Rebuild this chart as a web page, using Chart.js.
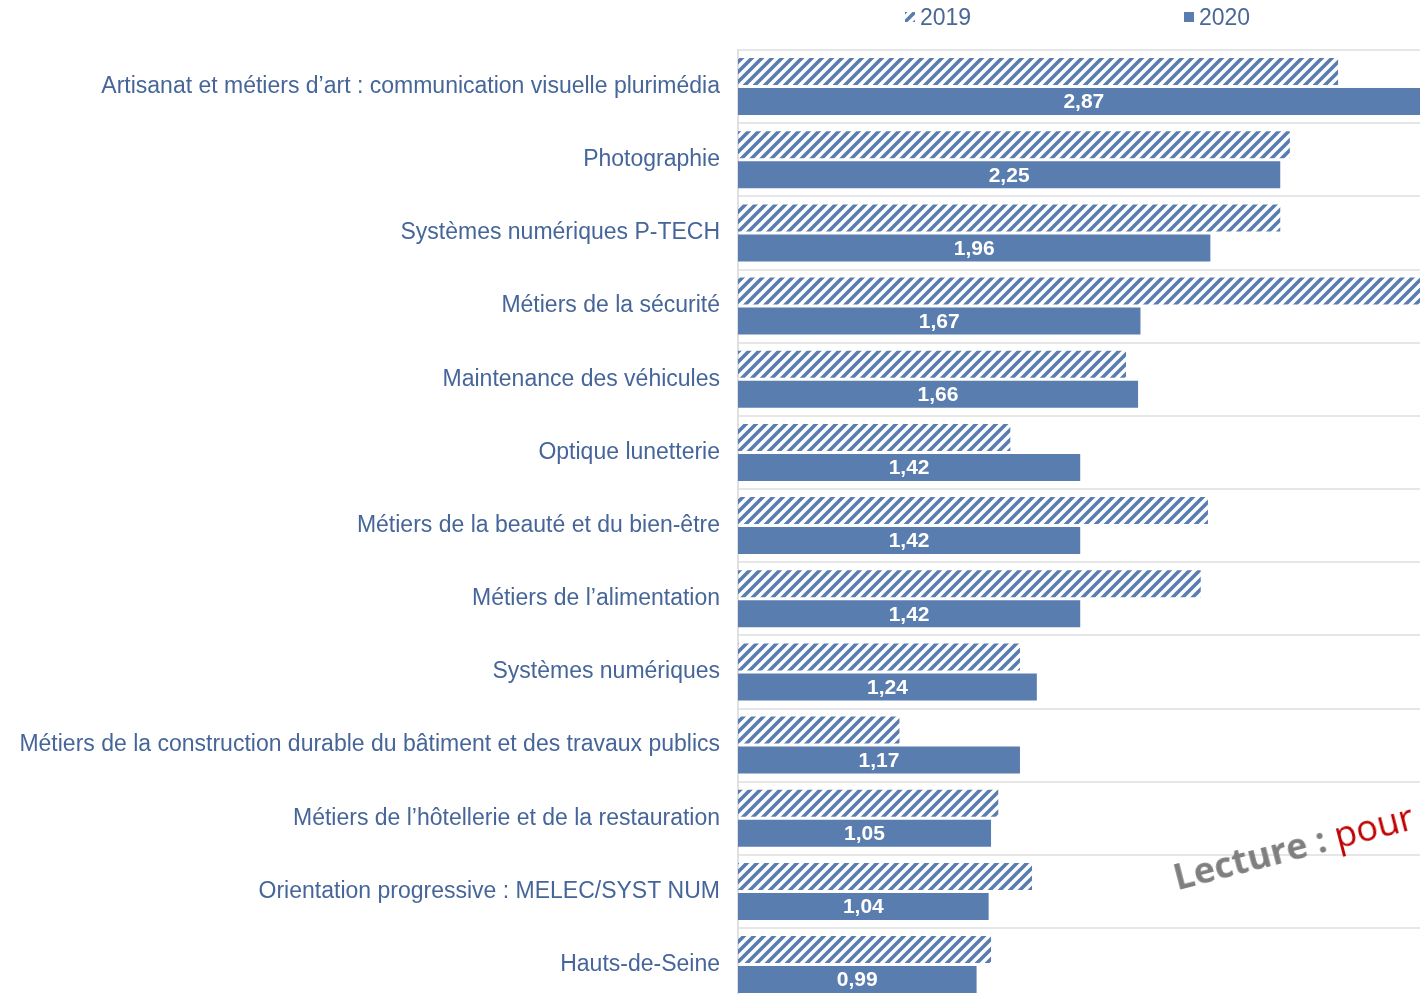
<!DOCTYPE html>
<html>
<head>
<meta charset="utf-8">
<script src="https://cdn.jsdelivr.net/npm/chart.js@4.4.1/dist/chart.umd.min.js"></script>
<style>
  html, body { margin: 0; padding: 0; background: #fff; overflow: hidden; width: 1420px; height: 994px; }
  #myChart { position: absolute; left: 0; top: 0; }
  .legend { position: absolute; top: 4px; font: 23px "Liberation Sans", Arial, sans-serif; color: #4a6896; }
  .legend span.box { display: inline-block; width: 10px; height: 10px; margin-right: 5px; vertical-align: 3px; }
  .lecture { position: absolute; left: 1180px; top: 852px; font: 36px "Open Sans", sans-serif; transform: rotate(-14.5deg); transform-origin: left bottom; white-space: nowrap; }
</style>
</head>
<body>
<canvas id="myChart" width="1480" height="1033"></canvas>
<div class="legend" style="left:905px"><span class="box" id="hatchBox"></span>2019</div>
<div class="legend" style="left:1184px"><span class="box" style="background:#5a7db0"></span>2020</div>
<div class="lecture"><span style="color:#7f7f7f;font-weight:700">Lecture : </span><span style="color:#c00000">pour</span></div>
<script>
const categories = [
  'Artisanat et métiers d\u2019art : communication visuelle plurimédia',
  'Photographie',
  'Systèmes numériques P-TECH',
  'Métiers de la sécurité',
  'Maintenance des véhicules',
  'Optique lunetterie',
  'Métiers de la beauté et du bien-être',
  'Métiers de l\u2019alimentation',
  'Systèmes numériques',
  'Métiers de la construction durable du bâtiment et des travaux publics',
  'Métiers de l\u2019hôtellerie et de la restauration',
  'Orientation progressive : MELEC/SYST NUM',
  'Hauts-de-Seine'
];
const values2019 = [2.49, 2.29, 2.25, 2.95, 1.61, 1.13, 1.95, 1.92, 1.17, 0.67, 1.08, 1.22, 1.05];
const values2020 = [2.87, 2.25, 1.96, 1.67, 1.66, 1.42, 1.42, 1.42, 1.24, 1.17, 1.05, 1.04, 0.99];

const blue = '#5a7db0';

function makeHatch() {
  const c = document.createElement('canvas');
  c.width = 10; c.height = 10;
  const g = c.getContext('2d');
  g.strokeStyle = blue;
  g.lineWidth = 3.6;
  g.lineCap = 'square';
  g.beginPath();
  g.moveTo(-2, 12); g.lineTo(12, -2);
  g.moveTo(-12, 12); g.lineTo(2, -2);
  g.moveTo(8, 12); g.lineTo(22, -2);
  g.stroke();
  return c;
}

const hatchCanvas = makeHatch();
document.getElementById('hatchBox').style.background = 'url(' + hatchCanvas.toDataURL() + ')';

const ctx = document.getElementById('myChart').getContext('2d');
const hatch = ctx.createPattern(hatchCanvas, 'repeat');

const valueLabels = {
  id: 'valueLabels',
  afterDatasetsDraw(chart) {
    const meta = chart.getDatasetMeta(1);
    const g = chart.ctx;
    g.save();
    g.fillStyle = '#ffffff';
    g.font = 'bold 21px "Liberation Sans", Arial, sans-serif';
    g.textAlign = 'center';
    g.textBaseline = 'middle';
    meta.data.forEach((bar, i) => {
      const x = (bar.base + bar.x) / 2;
      g.fillText(values2020[i].toFixed(2).replace('.', ','), x, bar.y + 1);
    });
    g.restore();
  }
};

new Chart(ctx, {
  type: 'bar',
  data: {
    labels: categories,
    datasets: [
      {
        label: '2019',
        data: values2019,
        backgroundColor: hatch,
        borderWidth: 0,
        barPercentage: 0.9,
        categoryPercentage: 0.82
      },
      {
        label: '2020',
        data: values2020,
        backgroundColor: blue,
        borderWidth: 0,
        barPercentage: 0.9,
        categoryPercentage: 0.82
      }
    ]
  },
  options: {
    indexAxis: 'y',
    responsive: false,
    animation: false,
    layout: { padding: { top: 50, bottom: 7, left: 0, right: 19 } },
    plugins: {
      legend: { display: false },
      tooltip: { enabled: false }
    },
    scales: {
      x: {
        display: false,
        min: 0,
        max: 3.0
      },
      y: {
        afterFit(scale) { scale.width = 738; },
        ticks: {
          color: '#46669a',
          font: { family: '"Liberation Sans", Arial, sans-serif', size: 23 },
          padding: 18,
          autoSkip: false
        },
        grid: {
          color: '#e6e6e6',
          lineWidth: 2,
          drawTicks: false
        },
        border: { display: true, color: '#e0e0e0', width: 2 }
      }
    }
  },
  plugins: [valueLabels]
});
</script>
</body>
</html>
